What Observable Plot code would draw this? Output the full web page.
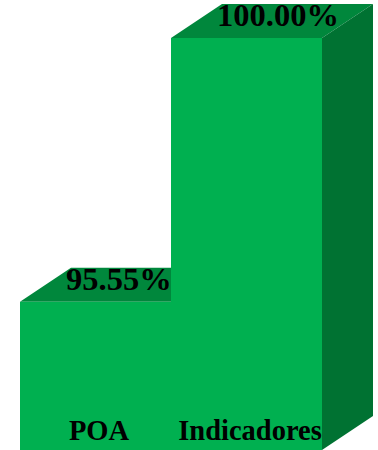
<!DOCTYPE html>
<html><head><meta charset="utf-8">
<script src="https://cdn.jsdelivr.net/npm/d3@7"></script>
<script src="https://cdn.jsdelivr.net/npm/@observablehq/plot@0.6"></script>
<style>html,body{margin:0;padding:0;background:#fff;overflow:hidden}</style>
</head><body><div id="chart"></div>
<script>
const categories = ["POA", "Indicadores"];
const values = [95.55, 100.00];
const valueLabels = ["95.55%", "100.00%"];
const yDomain = [93.05, 100];

const data = categories.map((c, i) => ({category: c, value: values[i], label: valueLabels[i]}));

const frontColor = "#00B050";
const topColor = "#00873C";
const sideColor = "#007232";
const DX = 51, DY = 34;
const font = "'Liberation Serif', 'Times New Roman', serif";

function extrude(index, scales, vals, dims, ctx, next) {
  const g = next(index, scales, vals, dims, ctx);
  const ns = "http://www.w3.org/2000/svg";
  const back = document.createElementNS(ns, "g");
  for (const r of Array.from(g.querySelectorAll("rect"))) {
    const x = +r.getAttribute("x"), y = +r.getAttribute("y");
    const w = +r.getAttribute("width"), h = +r.getAttribute("height");
    const top = document.createElementNS(ns, "path");
    top.setAttribute("d", `M${x},${y}L${x + w},${y}L${x + w + DX},${y - DY}L${x + DX},${y - DY}Z`);
    top.setAttribute("fill", topColor);
    const side = document.createElementNS(ns, "path");
    side.setAttribute("d", `M${x + w},${y}L${x + w + DX},${y - DY}L${x + w + DX},${y + h - DY}L${x + w},${y + h}Z`);
    side.setAttribute("fill", sideColor);
    back.appendChild(top);
    back.appendChild(side);
  }
  g.insertBefore(back, g.firstChild);
  return g;
}

const chart = Plot.plot({
  width: 378,
  height: 450,
  marginLeft: 20,
  marginRight: 56,
  marginTop: 38,
  marginBottom: 0,
  x: {domain: categories, padding: 0, axis: null},
  y: {domain: yDomain, axis: null},
  style: {fontFamily: font, background: "white"},
  marks: [
    Plot.barY(data, {x: "category", y1: () => yDomain[0], y2: "value", fill: frontColor, render: extrude}),
    Plot.text(data, {x: "category", y: "value", text: "label", textAnchor: "start", dx: -30, dy: -23, lineAnchor: "middle",
      fontSize: 32.5, fontWeight: "bold", fill: "black", fontFamily: font}),
    Plot.text(data, {x: "category", frameAnchor: "bottom", text: "category", dx: 3, dy: -20, lineAnchor: "middle",
      fontSize: 28.5, fontWeight: "bold", fill: "black", fontFamily: font})
  ]
});
document.getElementById("chart").appendChild(chart);
</script>
</body></html>
